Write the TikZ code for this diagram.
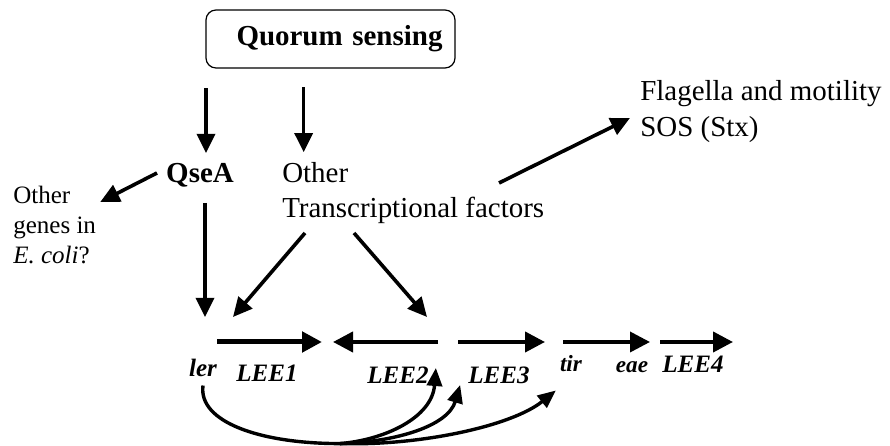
\documentclass[tikz,border=0pt]{standalone}
\usepackage{fontspec}
\setmainfont{Liberation Serif}
\usetikzlibrary{arrows.meta}

\begin{document}
\begin{tikzpicture}[
    arr/.style={line width=0.09cm, -{Triangle[length=0.48cm,width=0.45cm]}},
    gene/.style={line width=0.1cm, -{Triangle[length=0.5cm,width=0.5cm]}},
    loop/.style={line width=0.085cm},
    lbl/.style={inner sep=0.1cm, font=\fontsize{20.6}{25}\selectfont},
    glbl/.style={inner sep=0.1cm, font=\fontsize{17.8}{21}\selectfont\bfseries\itshape}
  ]
  \useasboundingbox (0,0) rectangle (22.25,11.15);

  % top box
  \node [draw, rounded corners=0.25cm, line width=0.03cm, minimum height=1.45cm,
         text width=5.6cm, inner xsep=0.3125cm, align=right,
         font=\fontsize{20.6}{25}\selectfont\bfseries] (qs) at (8.2625,10.175) {Quorum sensing};

  \node [lbl, anchor=base, font=\fontsize{20.6}{25}\selectfont\bfseries] (qsea) at (5.0,6.575) {QseA};
  \node [lbl, anchor=base west] (othr) at (6.95,6.575) {Other};
  \node [lbl, anchor=base west] (trf) at (6.95,5.7) {Transcriptional factors};
  \node [lbl, anchor=north west, align=left, font=\fontsize{17.8}{21.3}\selectfont] (genes) at (0.225,6.6)
        {Other\\genes in\\\textit{E. coli}?};
  \node [lbl, anchor=base west] (flag) at (15.9,8.625) {Flagella and motility};
  \node [lbl, anchor=base west] (sos) at (15.9,7.725) {SOS (Stx)};

  % genes
  \node [glbl, anchor=base] (ler) at (5.075,1.725) {ler};
  \node [glbl, anchor=base] (lee1) at (6.675,1.6) {LEE1};
  \node [glbl, anchor=base] (lee2) at (9.95,1.55) {LEE2};
  \node [glbl, anchor=base] (lee3) at (12.475,1.55) {LEE3};
  \node [glbl, anchor=base, font=\fontsize{16.5}{20}\selectfont\bfseries\itshape] (tir) at (14.275,1.85) {tir};
  \node [glbl, anchor=base, font=\fontsize{16.5}{20}\selectfont\bfseries\itshape] (eae) at (15.8,1.825) {eae};
  \node [glbl, anchor=base] (lee4) at (17.325,1.825) {LEE4};

  \coordinate (l1a) at (5.425,2.6);  \coordinate (l1b) at (8.05,2.6);
  \coordinate (l2a) at (10.95,2.6);  \coordinate (l2b) at (8.325,2.6);
  \coordinate (l3a) at (11.45,2.6);  \coordinate (l3b) at (13.625,2.6);
  \coordinate (l4a) at (14.075,2.6); \coordinate (l4b) at (16.25,2.6);
  \coordinate (l5a) at (16.5,2.6);   \coordinate (l5b) at (18.325,2.6);
  \draw [gene, line width=0.125cm] (l1a) -- (l1b);
  \draw [gene] (l2a) -- (l2b);
  \draw [gene] (l3a) -- (l3b);
  \draw [gene, line width=0.09cm] (l4a) -- (l4b);
  \draw [gene] (l5a) -- (l5b);

  % regulation
  \draw [arr] ([xshift=0.15cm,yshift=1.785cm]qsea.north) -- ([xshift=0.15cm,yshift=0.16cm]qsea.north);
  \draw [arr] ([xshift=-0.29cm,yshift=1.785cm]othr.north) -- ([xshift=-0.29cm,yshift=0.16cm]othr.north);
  \draw [arr] ([shift={(-1.075,0.25)}]qsea.base) -- ([yshift=-0.5cm]genes.north east);
  \draw [arr] ([shift={(0.125,-0.5)}]qsea.base) -- ([shift={(0.05,1.5)}]ler.base);
  \coordinate (tfler) at (5.825,3.225);
  \coordinate (tflee) at (10.675,3.225);
  \draw [arr] ([shift={(0.675,-0.375)}]trf.base west) -- (tfler);
  \draw [arr] ([shift={(1.9,-0.375)}]trf.base west) -- (tflee);
  \draw [arr] ([shift={(5.525,0.875)}]trf.base west) -- ([shift={(-0.15,0.475)}]sos.base west);

  % ler feedback
  \coordinate (hub) at (8.5,0.06);
  \draw [loop] ([yshift=-0.1cm]ler.south) .. controls (4.95,0.6) and (6.5,0.06) .. (hub);
  \draw [loop, -{Triangle[length=0.45cm,width=0.38cm]}] (hub) .. controls (9.6,0.15) and (10.8,0.7) .. ([shift={(0.075,0.4)}]lee2.base east);
  \draw [loop, -{Triangle[length=0.45cm,width=0.38cm]}] (hub) .. controls (9.9,0.1) and (11.2,0.5) .. ([shift={(-0.1,-0.025)}]lee3.base west);
  \draw [loop, -{Triangle[length=0.45cm,width=0.38cm]}] (hub) .. controls (10.5,0.0) and (12.8,0.5) .. ([yshift=-0.35cm]tir.south west);
\end{tikzpicture}
\end{document}
